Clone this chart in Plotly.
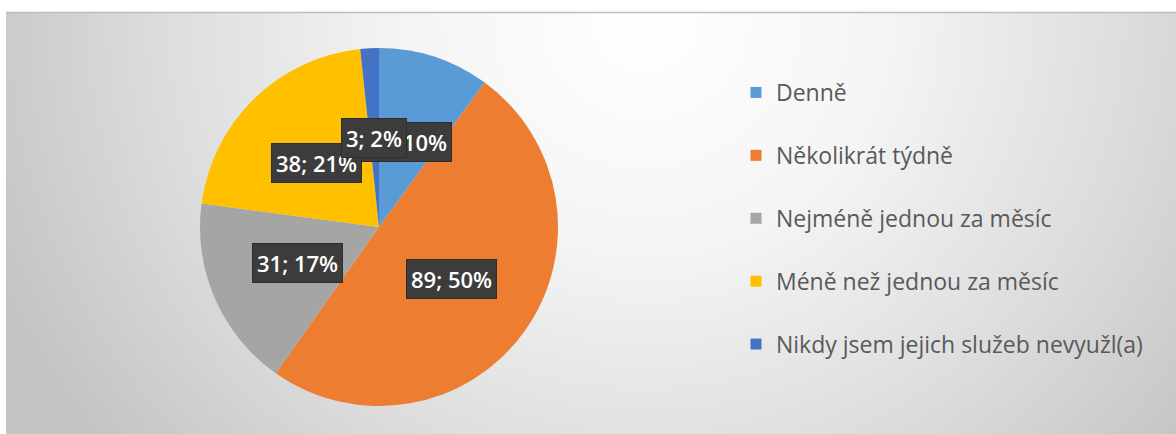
import base64
import math

import plotly.graph_objects as go

# Survey answers: how often the respondent uses the services
categories = [
    "Denně",
    "Několikrát týdně",
    "Nejméně jednou za měsíc",
    "Méně než jednou za měsíc",
    "Nikdy jsem jejich služeb nevyužl(a)",
]
counts = [18, 89, 31, 38, 3]
colors = ["#5B9BD5", "#ED7D31", "#A5A5A5", "#FFC000", "#4472C4"]

W, H = 1176, 434
CX, CY, R = 379, 227, 179          # pie centre and radius in pixels
FONT = "Open Sans, Noto Sans, DejaVu Sans, sans-serif"

total = sum(counts)
percents = [100 * c / total for c in counts]
label_texts = [f"{c}; {round(p)}%" for c, p in zip(counts, percents)]

fig = go.Figure()

# panel background: soft radial grey gradient
svg = f"""<svg xmlns='http://www.w3.org/2000/svg' width='{W - 6}' height='{H - 12}'>
<defs><radialGradient id='g' gradientUnits='userSpaceOnUse' cx='640' cy='10' r='700'
 gradientTransform='translate(640 10) scale(1 0.95) translate(-640 -10)'>
<stop offset='0' stop-color='#ffffff'/><stop offset='0.35' stop-color='#f4f4f4'/>
<stop offset='0.7' stop-color='#dcdcdc'/><stop offset='1' stop-color='#c4c4c4'/>
</radialGradient></defs>
<rect width='100%' height='100%' fill='url(#g)'/></svg>"""
fig.add_layout_image(
    source="data:image/svg+xml;base64," + base64.b64encode(svg.encode()).decode(),
    xref="x", yref="y", x=6, y=12, sizex=W - 6, sizey=H - 12,
    sizing="stretch", layer="below", xanchor="left", yanchor="top",
)

# pie drop shadow
for k, a in enumerate([0.05, 0.05, 0.06]):
    rr = R + 6 - 2 * k
    fig.add_shape(type="circle", xref="x", yref="y",
                  x0=CX - rr + 2, x1=CX + rr + 2, y0=CY - rr + 5, y1=CY + rr + 5,
                  fillcolor=f"rgba(0,0,0,{a})", line_width=0, layer="below")

# legend panel
fig.add_shape(type="rect", xref="x", yref="y", x0=745, x1=1157, y0=60, y1=373,
              fillcolor="rgba(236,236,236,0.7)", line_width=0, layer="below")
fig.add_shape(type="line", xref="x", yref="y", x0=6, x1=W, y0=12.5, y1=12.5,
              line=dict(color="#bdbdbd", width=1.5))

fig.add_trace(go.Pie(
    labels=categories, values=counts, sort=False, direction="clockwise",
    rotation=0, marker=dict(colors=colors, line=dict(width=0)),
    textinfo="none", hoverinfo="label+value+percent", showlegend=False,
    domain=dict(x=[(CX - R) / W, (CX + R) / W], y=[1 - (CY + R) / H, 1 - (CY - R) / H]),
))

# legend entries
for name, col in zip(categories, colors):
    fig.add_trace(go.Scatter(
        x=[None], y=[None], mode="markers", name=name, legendgroup=name,
        marker=dict(symbol="square", size=11, color=col),
    ))

# data labels at half radius of each slice
start = 0.0
for text, c in zip(label_texts, counts):
    span = 360 * c / total
    mid = math.radians(start + span / 2)
    start += span
    lx = CX + 0.5 * R * math.sin(mid)
    ly = CY - 0.5 * R * math.cos(mid)
    fig.add_annotation(x=lx, y=ly, xref="x", yref="y", text=text, showarrow=False,
                       bgcolor="#3c3c3c", bordercolor="#2e2e2e", borderwidth=1,
                       font=dict(family=FONT, size=22, color="#ffffff", weight=600),
                       borderpad=4)

fig.update_layout(
    width=W, height=H, margin=dict(l=0, r=0, t=0, b=0),
    paper_bgcolor="#ffffff", plot_bgcolor="rgba(0,0,0,0)",
    xaxis=dict(range=[0, W], visible=False, fixedrange=True, domain=[0, 1]),
    yaxis=dict(range=[H, 0], visible=False, fixedrange=True, domain=[0, 1]),
    legend=dict(
        x=736 / W, y=1 - 71 / H, xanchor="left", yanchor="top",
        bgcolor="rgba(0,0,0,0)", tracegroupgap=30,
        font=dict(family=FONT, size=23, color="#595959"),
        itemclick=False, itemdoubleclick=False,
    ),
    showlegend=True,
)

fig.write_html("out.html")
